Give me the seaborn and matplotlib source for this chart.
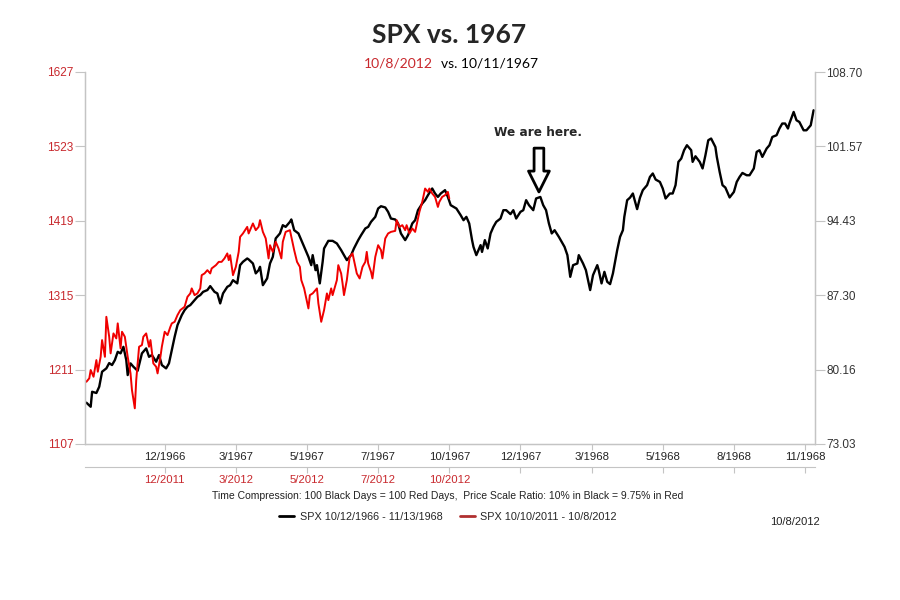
import matplotlib
matplotlib.use("Agg")
import matplotlib.pyplot as plt
from matplotlib.lines import Line2D
import seaborn as sns

# Black series: SPX 10/12/1966 - 11/13/1968 (trading day index, close)
black_days = [
    1, 4, 5, 8, 10, 12, 15, 17, 19, 21,
    23, 25, 27, 29, 30, 32, 34, 37, 40, 43,
    45, 47, 50, 52, 54, 57, 59, 61, 63, 65,
    68, 70, 72, 74, 77, 79, 81, 83, 86, 88,
    91, 93, 95, 97, 100, 102, 104, 107, 109, 111,
    114, 115, 118, 120, 122, 123, 125, 128, 130, 132,
    134, 137, 139, 141, 144, 145, 147, 150, 152, 154,
    157, 159, 160, 162, 163, 165, 167, 168, 171, 174,
    177, 180, 182, 184, 187, 189, 192, 194, 197, 199,
    201, 204, 206, 208, 211, 213, 215, 218, 220, 222,
    225, 227, 230, 232, 234, 237, 239, 241, 244, 246,
    248, 250, 253, 255, 257, 261, 264, 266, 268, 270,
    272, 273, 275, 278, 279, 281, 283, 285, 287, 289,
    292, 294, 296, 299, 301, 303, 306, 308, 310, 312,
    315, 317, 320, 322, 324, 326, 328, 330, 333, 335,
    337, 339, 341, 343, 346, 347, 350, 352, 355, 357,
    360, 361, 363, 365, 367, 369, 371, 374, 376, 378,
    379, 381, 383, 385, 388, 390, 392, 395, 397, 399,
    401, 404, 406, 408, 411, 413, 415, 417, 419, 421,
    423, 426, 427, 429, 432, 434, 436, 438, 440, 443,
    444, 446, 448, 450, 453, 456, 458, 460, 462, 465,
    467, 470, 472, 474, 476, 479, 481, 483, 486, 488,
    490, 492, 494, 495, 498, 500, 502, 505, 507, 510,
    512,
]
black_close = [
    76.99, 76.60, 78.04, 77.92, 78.52, 79.96, 80.28, 80.79, 80.60, 81.08,
    81.87, 81.72, 82.35, 81.08, 79.64, 80.76, 80.44, 80.05, 81.72, 82.20,
    81.39, 81.56, 80.92, 81.56, 80.60, 80.28, 80.76, 82.04, 83.31, 84.43,
    85.39, 85.87, 86.19, 86.35, 86.83, 87.14, 87.31, 87.62, 87.79, 88.17,
    87.62, 87.47, 86.51, 87.47, 88.10, 88.26, 88.74, 88.43, 90.18, 90.50,
    90.82, 90.73, 90.34, 89.39, 89.70, 90.02, 88.26, 88.91, 90.34, 90.98,
    92.74, 93.22, 94.01, 93.85, 94.33, 94.56, 93.53, 93.22, 92.58, 91.93,
    90.98, 90.18, 91.14, 89.70, 90.18, 88.43, 90.50, 91.78, 92.51, 92.51,
    92.26, 91.62, 91.14, 90.66, 91.14, 91.78, 92.58, 93.05, 93.70, 93.85,
    94.33, 94.81, 95.61, 95.83, 95.71, 95.29, 94.65, 94.56, 94.18, 93.22,
    92.58, 93.05, 94.18, 94.49, 95.45, 96.09, 96.41, 96.89, 97.53, 97.05,
    96.72, 97.05, 97.37, 96.72, 95.93, 95.61, 94.97, 94.49, 94.81, 94.18,
    92.58, 91.93, 91.14, 92.10, 91.45, 92.58, 91.78, 93.22, 93.85, 94.33,
    94.65, 95.45, 95.45, 95.07, 95.45, 94.65, 95.29, 95.45, 96.41, 95.93,
    95.45, 96.57, 96.72, 95.93, 95.45, 94.18, 93.22, 93.53, 92.89, 92.41,
    91.93, 91.14, 89.06, 90.18, 90.34, 91.14, 90.34, 89.70, 87.79, 89.22,
    90.18, 89.70, 88.43, 89.54, 88.58, 88.36, 89.39, 91.62, 92.89, 93.53,
    94.81, 96.41, 96.65, 97.05, 95.55, 96.65, 97.37, 97.85, 98.64, 98.97,
    98.39, 98.16, 97.53, 96.57, 97.05, 97.05, 97.85, 100.08, 100.40, 101.20,
    101.68, 101.20, 100.08, 100.62, 100.08, 99.45, 100.72, 102.16, 102.32, 101.51,
    100.56, 99.12, 97.85, 97.62, 96.67, 97.20, 98.16, 98.64, 99.02, 98.80,
    98.80, 99.45, 101.04, 101.20, 100.56, 101.36, 101.68, 102.47, 102.64, 103.28,
    103.76, 103.76, 103.28, 103.76, 104.87, 104.07, 103.91, 103.11, 103.11, 103.59,
    105.03,
]

# Red series: SPX 10/10/2011 - 10/8/2012 (same day index, 100 black days = 100 red days)
red_days = [
    1, 3, 4, 6, 8, 9, 11, 12, 14, 15,
    17, 18, 20, 22, 23, 25, 26, 28, 30, 32,
    33, 35, 36, 38, 40, 41, 43, 45, 46, 48,
    50, 51, 53, 54, 56, 58, 60, 61, 63, 65,
    67, 70, 72, 74, 75, 77, 79, 81, 82, 84,
    86, 88, 89, 92, 94, 96, 98, 100, 101, 102,
    104, 106, 108, 109, 111, 114, 115, 118, 120, 122,
    123, 125, 127, 129, 130, 132, 134, 136, 138, 139,
    141, 144, 145, 147, 149, 151, 152, 154, 157, 158,
    160, 163, 164, 166, 168, 170, 171, 173, 174, 177,
    178, 180, 181, 182, 184, 186, 188, 190, 191, 193,
    195, 197, 198, 199, 201, 202, 204, 206, 208, 209,
    211, 213, 215, 218, 219, 221, 223, 225, 226, 228,
    230, 232, 234, 235, 237, 239, 241, 242, 244, 246,
    248, 249, 251, 253, 255, 256,
]
red_close = [
    1194.0, 1198.8, 1210.4, 1201.0, 1224.3, 1208.0, 1228.9, 1252.3, 1228.9, 1284.8,
    1256.9, 1233.7, 1261.6, 1254.6, 1275.6, 1240.7, 1263.9, 1256.9, 1228.9, 1205.7,
    1182.4, 1156.9, 1196.4, 1242.9, 1245.3, 1256.9, 1261.6, 1242.9, 1252.3, 1219.7,
    1215.0, 1205.7, 1228.9, 1242.9, 1263.9, 1259.2, 1270.8, 1275.6, 1277.8, 1287.2,
    1294.2, 1298.8, 1312.7, 1317.5, 1324.5, 1315.1, 1317.5, 1324.5, 1343.0, 1345.4,
    1350.0, 1345.4, 1352.4, 1357.0, 1361.6, 1361.6, 1366.4, 1373.4, 1364.0, 1371.0,
    1343.0, 1354.6, 1375.6, 1396.5, 1401.3, 1410.5, 1401.3, 1415.3, 1405.9, 1410.5,
    1419.9, 1403.5, 1394.3, 1366.4, 1384.9, 1375.6, 1389.6, 1380.3, 1366.4, 1389.6,
    1403.5, 1405.9, 1396.5, 1378.0, 1361.6, 1354.6, 1336.1, 1324.5, 1296.5, 1315.1,
    1317.5, 1324.5, 1303.5, 1277.8, 1294.2, 1317.5, 1308.1, 1324.5, 1315.1, 1336.1,
    1357.0, 1345.4, 1331.5, 1315.1, 1336.1, 1368.6, 1373.4, 1354.6, 1345.4, 1338.4,
    1354.6, 1361.6, 1375.6, 1359.4, 1347.6, 1338.4, 1368.6, 1384.9, 1378.0, 1366.4,
    1394.3, 1401.3, 1403.5, 1404.9, 1419.9, 1410.5, 1412.9, 1405.9, 1412.9, 1401.3,
    1408.3, 1403.5, 1422.2, 1431.5, 1445.4, 1464.1, 1459.4, 1464.1, 1457.2, 1452.4,
    1438.4, 1445.4, 1452.4, 1454.8, 1459.4, 1450.2,
]

tick_days = [56, 106, 156, 206, 256, 306, 356, 406, 456, 506]
black_tick_labels = ["12/1966", "3/1967", "5/1967", "7/1967", "10/1967",
                     "12/1967", "3/1968", "5/1968", "8/1968", "11/1968"]
red_tick_labels = ["12/2011", "3/2012", "5/2012", "7/2012", "10/2012",
                   "", "", "", "", ""]
black_yticks = [73.03, 80.16, 87.30, 94.43, 101.57, 108.70]
red_yticks = [1107, 1211, 1315, 1419, 1523, 1627]

RED = "#f00000"
LABEL_RED = "#c8282d"
GRAY = "#c4c4c4"

sns.set_style("white")
plt.rcParams["font.family"] = ["Liberation Sans", "DejaVu Sans"]

fig = plt.figure(figsize=(9, 6), dpi=100)
ax = fig.add_axes([85 / 900, 156 / 600, 730 / 900, 372 / 600])
ax2 = ax.twinx()

# black on the main axes (scale on the right), red on the twin (scale on the left, drawn on top)
sns.lineplot(x=black_days, y=black_close, ax=ax, color="black", linewidth=1.7, legend=False)
sns.lineplot(x=red_days, y=red_close, ax=ax2, color=RED, linewidth=1.4, legend=False)

ax.set_xlim(0, 513)
ax.set_ylim(black_yticks[0], black_yticks[-1])
ax2.set_ylim(red_yticks[0], red_yticks[-1])
ax.set_xlabel("")
ax.set_ylabel("")
ax2.set_ylabel("")

ax.yaxis.tick_right()
ax2.yaxis.tick_left()
ax.set_yticks(black_yticks)
ax.set_yticklabels([f"{v:.2f}" for v in black_yticks])
ax2.set_yticks(red_yticks)
ax2.set_yticklabels([str(v) for v in red_yticks])

ax.tick_params(axis="y", right=True, left=False, direction="out", length=7, width=0.8,
               color=GRAY, labelsize=8.5, labelcolor="#333333", pad=1)
ax2.tick_params(axis="y", left=True, right=False, direction="out", length=7, width=0.8,
                color=GRAY, labelsize=8.5, labelcolor=LABEL_RED, pad=1.5)

ax.set_xticks(tick_days)
ax.set_xticklabels(black_tick_labels)
ax.tick_params(axis="x", bottom=True, direction="out", length=4, width=0.8,
               color=GRAY, labelsize=8.2, labelcolor="#222222", pad=1.5)

# second date row for the red series
sec = ax.secondary_xaxis(-0.062)
sec.set_xticks(tick_days)
sec.set_xticklabels(red_tick_labels)
sec.tick_params(axis="x", direction="out", length=4, width=0.8, color=GRAY,
                labelsize=8.2, labelcolor=LABEL_RED, pad=1.5)
sec.spines["bottom"].set_color(GRAY)

for a in (ax, ax2):
    a.spines["top"].set_visible(False)
    for side in ("left", "right", "bottom"):
        a.spines[side].set_color(GRAY)
        a.spines[side].set_linewidth(0.9)

# "We are here." marker
ax.annotate("", xy=(319, 97.2), xytext=(319, 101.4),
            arrowprops=dict(width=7, headwidth=15, headlength=15, shrink=0,
                            facecolor="white", edgecolor="black", linewidth=2))
ax.text(318, 102.9, "We are here.", ha="center", va="center", fontsize=8.7,
        fontweight="bold", family=["DejaVu Sans"])

# titles
fig.text(0.499, 1 - 35 / 600, "SPX vs. 1967", ha="center", va="center",
         fontsize=19, fontweight="bold", family=["Lato", "DejaVu Sans"])
fig.text(433 / 900, 1 - 64 / 600, "10/8/2012", ha="right", va="center",
         fontsize=10, color=LABEL_RED, family=["Lato", "DejaVu Sans"])
fig.text(441 / 900, 1 - 64 / 600, "vs. 10/11/1967", ha="left", va="center",
         fontsize=10, color="black", family=["Lato", "DejaVu Sans"])

fig.text(448 / 900, 1 - 496 / 600,
         "Time Compression: 100 Black Days = 100 Red Days,  Price Scale Ratio: 10% in Black = 9.75% in Red",
         ha="center", va="center", fontsize=7.5, color="#222222")

legend_handles = [Line2D([], [], color="black", linewidth=2),
                  Line2D([], [], color="#b03030", linewidth=2)]
fig.legend(handles=legend_handles,
           labels=["SPX 10/12/1966 - 11/13/1968", "SPX 10/10/2011 - 10/8/2012"],
           loc="center", bbox_to_anchor=(448 / 900, 1 - 517 / 600), ncol=2,
           frameon=False, fontsize=7.8, handlelength=1.4, handletextpad=0.5,
           columnspacing=1.6)

fig.text(795 / 900, 1 - 522 / 600, "10/8/2012", ha="center", va="center",
         fontsize=8, color="#222222")

fig.savefig("out.png", dpi=100)
